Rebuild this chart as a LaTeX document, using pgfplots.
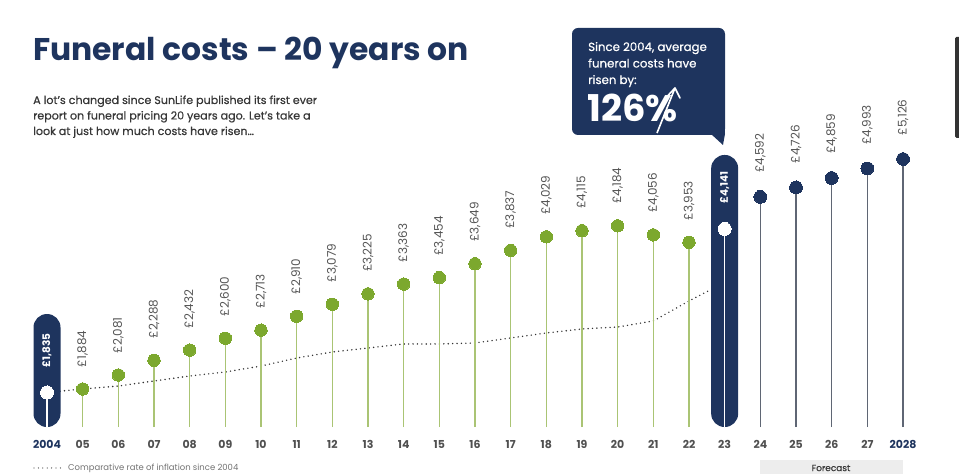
\documentclass[border=0pt]{standalone}
\usepackage{pgfplots}
\pgfplotsset{compat=1.18}
\usepackage{fontspec}
\setmainfont{Poppins}
\newfontfamily\pmed[FakeBold=0.6]{Poppins}
\definecolor{navyc}{RGB}{30,52,94}
\definecolor{greend}{RGB}{124,168,46}
\definecolor{greens}{RGB}{170,196,116}
\definecolor{greys}{RGB}{95,102,116}
\definecolor{tickg}{RGB}{80,80,80}
\definecolor{labg}{RGB}{85,85,85}
\definecolor{subg}{RGB}{55,55,55}
\begin{document}
\begin{tikzpicture}
\begin{axis}[
  at={(0,474bp)}, anchor=north west,
  scale only axis, width=959bp, height=427bp,
  xmin=-1.3178, xmax=25.570, ymin=1348.4, ymax=7367.3,
  axis line style={draw=none}, tick style={draw=none}, ytick=\empty,
  xtick={0,...,24},
  xticklabels={\textcolor{navyc}{2004},05,06,07,08,09,10,11,12,13,14,15,16,17,18,19,20,21,22,23,24,25,26,27,\textcolor{navyc}{2028}},
  xticklabel style={anchor=center, yshift=-17bp, font=\bfseries\fontsize{11}{11}\selectfont, text=tickg},
  /pgf/number format/assume math mode=true,
  /pgf/number format/1000 sep={,},
]
% inflation
\addplot[color=black!80, line width=1.6bp, dash pattern=on 0pt off 4.4bp, line cap=round] coordinates {
(0,1835) (1,1884) (2,1926) (3,1997) (4,2067) (5,2124) (6,2208) (7,2321) (8,2406) (9,2462)
(10,2519) (11,2519) (12,2533) (13,2603) (14,2674) (15,2730) (16,2758) (17,2843) (18,3125) (18.54,3266)};
% highlight bars
\addplot[ybar, bar width=27bp, fill=navyc, draw=none, rounded corners=13.4bp] coordinates {(0,2941) (19,5183)};
% stems
\addplot[ycomb, greens, line width=1.4bp, no marks] coordinates {
(1,1884) (2,2081) (3,2288) (4,2432) (5,2600) (6,2713) (7,2910) (8,3079) (9,3225) (10,3363)
(11,3454) (12,3649) (13,3837) (14,4029) (15,4115) (16,4184) (17,4056) (18,3953)};
\addplot[ycomb, greys, line width=1.4bp, no marks] coordinates {(20,4592) (21,4726) (22,4859) (23,4993) (24,5126)};
\addplot[ycomb, white, line width=1.5bp, no marks] coordinates {(0,1835) (19,4141)};
% dots + labels
\addplot[only marks, color=greend, mark=*, mark size=6.2bp, mark options={fill=greend, draw=greend, line width=0pt},
  point meta=y,
  nodes near coords={\kern22bp\relax £\pgfmathprintnumber{\pgfplotspointmeta}},
  every node near coord/.append style={rotate=90, anchor=west, inner sep=0pt, text=labg, font=\fontsize{12}{12}\selectfont}]
coordinates {
(1,1884) (2,2081) (3,2288) (4,2432) (5,2600) (6,2713) (7,2910) (8,3079) (9,3225) (10,3363)
(11,3454) (12,3649) (13,3837) (14,4029) (15,4115) (16,4184) (17,4056) (18,3953)};
\addplot[only marks, color=navyc, mark=*, mark size=6.4bp, mark options={fill=navyc, draw=navyc, line width=0pt},
  point meta=y,
  nodes near coords={\kern24bp\relax £\pgfmathprintnumber{\pgfplotspointmeta}},
  every node near coord/.append style={rotate=90, anchor=west, inner sep=0pt, text=labg, font=\fontsize{12}{12}\selectfont}]
coordinates {(20,4592) (21,4726) (22,4859) (23,4993) (24,5126)};
\addplot[only marks, color=white, mark=*, mark size=6.5bp, mark options={fill=white, draw=white, line width=0pt},
  point meta=y,
  nodes near coords={\kern25bp\relax £\pgfmathprintnumber{\pgfplotspointmeta}},
  every node near coord/.append style={rotate=90, anchor=west, inner sep=0pt, text=white, font=\bfseries\fontsize{10.5}{10.5}\selectfont}]
coordinates {(0,1835) (19,4141)};
\end{axis}
\begin{scope}[x=1bp, y=-1bp, yshift=474bp]
% title
\node[anchor=base west, inner sep=0pt, text=navyc, font=\bfseries\fontsize{31.5}{31.5}\selectfont] at (33,61) {Funeral costs – 20 years on};
\node[anchor=base west, inner sep=0pt, text=subg, font=\pmed\fontsize{11.15}{11.15}\selectfont] at (33,104) {A lot’s changed since SunLife published its first ever};
\node[anchor=base west, inner sep=0pt, text=subg, font=\pmed\fontsize{11.15}{11.15}\selectfont] at (33,119.5) {report on funeral pricing 20 years ago. Let’s take a};
\node[anchor=base west, inner sep=0pt, text=subg, font=\pmed\fontsize{11.15}{11.15}\selectfont] at (33,135) {look at just how much costs have risen\dots};
% callout
\fill[navyc, rounded corners=6bp] (572,28) rectangle (725,135);
\fill[navyc] (705,120) rectangle (725,135);
\fill[navyc] (711,134) -- (725,134) -- (723,145) -- cycle;
\node[anchor=base west, inner sep=0pt, text=white, font=\pmed\fontsize{11.8}{11.8}\selectfont] at (588,51) {Since 2004, average};
\node[anchor=base west, inner sep=0pt, text=white, font=\pmed\fontsize{11.8}{11.8}\selectfont] at (588,67.5) {funeral costs have};
\node[anchor=base west, inner sep=0pt, text=white, font=\pmed\fontsize{11.8}{11.8}\selectfont] at (588,84) {risen by:};
\node[anchor=base west, inner sep=0pt, text=white, font=\bfseries\fontsize{37}{37}\selectfont] at (587,122) {126\%};
\draw[white, line width=1.6bp] (657,133) -- (675,88);
\draw[white, line width=1.6bp, line cap=round, line join=round] (667.5,96) -- (675,88) -- (680,98);
% forecast
\fill[black!7] (760,460) rectangle (903,474);
\node[anchor=center, inner sep=0pt, text=subg, font=\pmed\fontsize{9}{9}\selectfont] at (831,468) {Forecast};
% legend
\draw[black!70, line width=1.3bp, dash pattern=on 0pt off 4.4bp, line cap=round] (34,468) -- (62,468);
\node[anchor=west, inner sep=0pt, text=black!55, font=\fontsize{8.5}{8.5}\selectfont] at (68,468) {Comparative rate of inflation since 2004};
% right edge artifact
\fill[black!80, rounded corners=1.5bp] (955,37) rectangle (962,138);
\end{scope}
\pgfresetboundingbox
\path (0,0) rectangle (959bp,474bp);
\end{tikzpicture}
\end{document}
